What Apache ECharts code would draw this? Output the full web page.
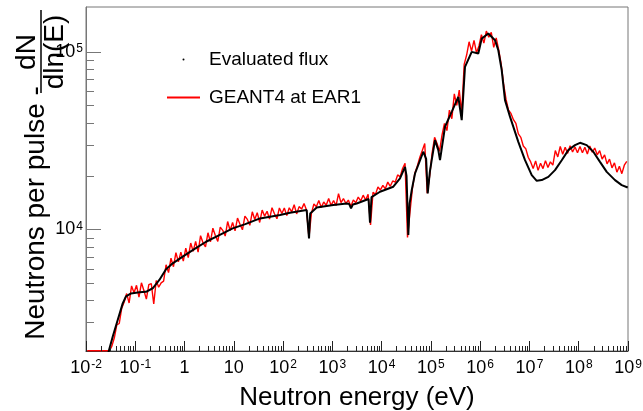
<!DOCTYPE html>
<html><head><meta charset="utf-8">
<script src="https://cdn.jsdelivr.net/npm/echarts@6/dist/echarts.min.js"></script>
<style>html,body{margin:0;padding:0;background:#fff}#c{width:643px;height:411px}</style>
</head><body><div id="c"></div>
<script>
// ---- axis definitions ----
const xRange = [0.01, 1e9];
const yRange = [2065, 179000];
const minorMultipliers = [2, 3, 4, 5, 6, 7, 8, 9];
const xMinorDecades = [0.01, 0.1, 1, 10, 100, 1e3, 1e4, 1e5, 1e6, 1e7, 1e8];
const yMinorDecades = [1e3, 1e4, 1e5];

// ---- Evaluated flux: [energy (eV), neutrons per pulse dN/dln(E)] ----
const evaluatedFlux = [
  [0.027, 1850], [0.029, 2065], [0.0348, 2485], [0.044, 3085], [0.0556, 3830], [0.065, 4200],
  [0.082, 4360], [0.121, 4420], [0.165, 4450], [0.226, 4660], [0.308, 5190], [0.421, 5960],
  [0.575, 6440], [0.918, 7020], [1.465, 7640], [2.73, 8520], [5.08, 9290], [9.49, 10130],
  [17.1, 10710], [34, 11530], [86.5, 12040], [138, 12400], [301, 12850], [320, 12700],
  [336, 8890], [355, 12300], [481, 13300], [1045, 13710], [1954, 14000], [2200, 13900],
  [2393, 13130], [2600, 13800], [3120, 14000], [5420, 14830], [5808, 10900], [6237, 15200],
  [9270, 16300], [17260, 17390], [23600, 19370], [29840, 22500], [32000, 20000], [34800, 9290],
  [37000, 14000], [40800, 16640], [47600, 20650], [70100, 27380], [75900, 27970], [80000, 25000],
  [86100, 15960], [95000, 21000], [103800, 24540], [121100, 31840], [141300, 27970], [153000, 24540],
  [193200, 37870], [264200, 45930], [359700, 55800], [421900, 41230], [492000, 82400], [673000, 100000],
  [916000, 98000], [1.074e6, 118800], [1.462e6, 126900], [2.0e6, 116400], [2.333e6, 102100], [2.735e6, 78890],
  [3.19e6, 53460], [4.04e6, 43030], [5.94e6, 31120], [8.13e6, 24540], [1.112e7, 20210], [1.406e7, 18780],
  [1.775e7, 18950], [2.415e7, 19770], [3.30e7, 21560], [4.52e7, 24540], [6.15e7, 27970], [8.41e7, 29850],
  [1.062e8, 30750], [1.452e8, 29850], [1.977e8, 27380], [2.70e8, 24010], [3.70e8, 21090], [5.45e8, 18950],
  [7.46e8, 17750], [9.87e8, 17220]
];

// ---- GEANT4 at EAR1: histogram, 20 log bins per decade starting at 10^-2 eV ----
const geantFirstBinExp = -2;
const geantBinsPerDecade = 20;
const geantFlux = [
  2070, 2070, 2070, 2070, 2070, 2070, 2070, 2070, 2070, 2070,
  2200, 2450, 2900, 2950, 3600, 3900, 4350, 3850, 4800, 4400,
  4840, 4150, 5000, 4530, 4050, 4880, 4950, 3800, 5150, 4720,
  5000, 5110, 6320, 5710, 6890, 6160, 7400, 6560, 7450, 6620,
  7840, 6930, 8380, 7520, 8550, 7440, 9220, 8400, 7980, 9570,
  8510, 10160, 9240, 8560, 10290, 9880, 9170, 11070, 9860, 10940,
  9820, 11590, 10680, 9950, 11880, 11380, 10540, 12570, 11370, 12430,
  10940, 12850, 11880, 12650, 11430, 13260, 12260, 11480, 13210, 12300,
  13190, 11960, 13240, 12570, 13770, 12220, 13440, 13010, 13970, 12850,
  9000, 12320, 13910, 13410, 14530, 13270, 14270, 13660, 14940, 13650,
  14540, 13630, 15890, 14160, 14920, 14000, 14630, 13460, 14660, 14140,
  15210, 14470, 15590, 14650, 15780, 10600, 16170, 15750, 17330, 16680,
  17710, 16920, 18480, 17490, 18740, 18440, 20270, 19790, 22050, 23600,
  9000, 12500, 17000, 20800, 22800, 25500, 27800, 30500, 16000, 20000,
  27000, 33000, 30500, 27500, 34000, 39500, 36000, 47000, 42000, 58000,
  50000, 61000, 45000, 85000, 96000, 114000, 101000, 116000, 99000, 108000,
  125000, 112000, 131000, 121000, 129000, 106000, 120000, 103000, 86000, 66000,
  54000, 47000, 45000, 41500, 39500, 34500, 33000, 29500, 28500, 25500,
  24000, 22000, 24300, 21500, 23600, 22000, 24400, 22300, 24000, 23000,
  27800, 25600, 29300, 26500, 29000, 26800, 29600, 27300, 29100, 27000,
  29300, 27000, 29000, 26600, 29500, 27200, 28700, 26300, 27800, 24900,
  26300, 23400, 24900, 22200, 23700, 21000, 22700, 20600, 23000, 24200
];

const seriesNames = ['Evaluated flux', 'GEANT4 at EAR1'];
const xTitle = 'Neutron energy (eV)';
const yTitleMain = 'Neutrons per pulse -';
const yTitleNum = 'dN';
const yTitleDen = 'dln(E)';

// ---- build data for the library ----
const geantData = geantFlux.map((v, i) => [Math.pow(10, geantFirstBinExp + (i + 0.5) / geantBinsPerDecade), v]);
const xMinorTicks = [];
xMinorDecades.forEach(d => minorMultipliers.forEach(m => { const v = d * m; if (v > xRange[0] && v < xRange[1]) xMinorTicks.push(v); }));
const yMinorTicks = [];
yMinorDecades.forEach(d => minorMultipliers.forEach(m => { const v = d * m; if (v > yRange[0] && v < yRange[1]) yMinorTicks.push(v); }));

const FONT = '"Liberation Sans", Arial, Helvetica, sans-serif';
function expLabel(v) {
  const e = Math.round(Math.log10(v));
  if (e === 0) return '1';
  if (e === 1) return '10';
  return '10{sup|' + e + '}';
}
const richSup = { sup: { fontSize: 12, fontFamily: FONT, color: '#000', verticalAlign: 'top', padding: [0, 0, 0, 1] } };

function tickSeries(values, dim, len, color) {
  return {
    type: 'custom', silent: true, z: 5, clip: false,
    data: values.map(v => dim === 'x' ? [v, yRange[0]] : [xRange[0], v]),
    renderItem: function (params, api) {
      const p = api.coord([api.value(0), api.value(1)]);
      if (dim === 'x') {
        const x = Math.round(p[0]) + 0.5;
        return { type: 'line', shape: { x1: x, y1: p[1], x2: x, y2: p[1] - len }, style: { stroke: color, lineWidth: 1 } };
      }
      const y = Math.round(p[1]) + 0.5;
      return { type: 'line', shape: { x1: p[0], y1: y, x2: p[0] + len, y2: y }, style: { stroke: color, lineWidth: 1 } };
    }
  };
}

const chart = echarts.init(document.getElementById('c'), null, { renderer: 'canvas' });
chart.setOption({
  animation: false,
  backgroundColor: '#fff',
  grid: { left: 86, right: 15, top: 7, bottom: 60, show: true, borderColor: '#777', borderWidth: 1, containLabel: false, outerBoundsMode: 'none' },
  legend: {
    orient: 'vertical', left: 162, top: 45, itemWidth: 33, itemHeight: 2, itemGap: 19, selectedMode: false,
    data: [{ name: seriesNames[0], icon: 'circle' }, { name: seriesNames[1], icon: 'rect' }],
    textStyle: { fontSize: 19, fontFamily: FONT, color: '#000', padding: [0, 0, 0, 4] }
  },
  xAxis: {
    type: 'log', logBase: 10, min: xRange[0], max: xRange[1], interval: 1,
    name: xTitle, nameLocation: 'middle', nameGap: 34, nameMoveOverlap: false,
    nameTextStyle: { fontSize: 26, fontFamily: FONT, color: '#000' },
    axisLine: { show: true, lineStyle: { color: '#333', width: 1 } },
    axisTick: { show: true, inside: true, length: 10, lineStyle: { color: '#222' } },
    axisLabel: { formatter: expLabel, fontSize: 18, fontFamily: FONT, color: '#000', margin: 8, rich: richSup, hideOverlap: false },
    splitLine: { show: false }, minorTick: { show: false }
  },
  yAxis: {
    type: 'log', logBase: 10, min: yRange[0], max: yRange[1],
    axisLine: { show: true, lineStyle: { color: '#777', width: 1 } },
    axisTick: { show: true, inside: true, length: 15, lineStyle: { color: '#777' } },
    axisLabel: { formatter: expLabel, fontSize: 18, fontFamily: FONT, color: '#000', margin: 3, rich: richSup, showMinLabel: false, showMaxLabel: false },
    splitLine: { show: false }, minorTick: { show: false }
  },
  graphic: [
    { type: 'text', x: 36, y: 213, rotation: Math.PI / 2, style: { text: yTitleMain, font: '28px ' + FONT, fill: '#000', align: 'center', verticalAlign: 'middle' } },
    { type: 'text', x: 27, y: 52, rotation: Math.PI / 2, style: { text: yTitleNum, font: '28px ' + FONT, fill: '#000', align: 'center', verticalAlign: 'middle' } },
    { type: 'line', shape: { x1: 41, y1: 10, x2: 41, y2: 93 }, style: { stroke: '#000', lineWidth: 1.5 } },
    { type: 'text', x: 55, y: 52, rotation: Math.PI / 2, style: { text: yTitleDen, font: '28px ' + FONT, fill: '#000', align: 'center', verticalAlign: 'middle' } }
  ],
  series: [
    { name: seriesNames[1], type: 'line', data: geantData, symbol: 'none', z: 3,
      lineStyle: { color: '#ff0000', width: 1.4 }, itemStyle: { color: '#ff0000' } },
    { name: seriesNames[0], type: 'line', data: evaluatedFlux, symbol: 'none', z: 4,
      lineStyle: { color: '#000', width: 2 }, itemStyle: { color: '#000' } },
    tickSeries(xMinorTicks, 'x', 5, '#222'),
    tickSeries(yMinorTicks, 'y', 8, '#777')
  ]
});
</script></body></html>
